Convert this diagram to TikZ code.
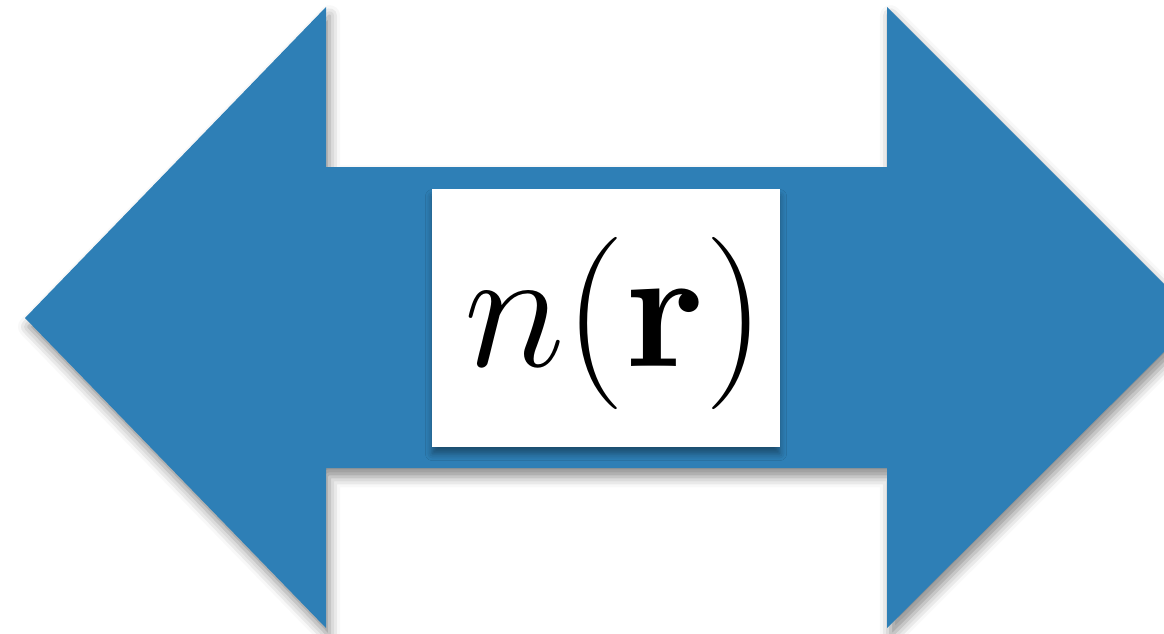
\documentclass[tikz,border=0pt]{standalone}
\usepackage{amsmath}
\usepackage{xcolor}
\usepackage{tikz}
\usetikzlibrary{shadows.blur}
\definecolor{arrowblue}{RGB}{46,127,182}

\begin{document}
\begin{tikzpicture}[x=0.01cm,y=-0.01cm,
    dblarrow/.style={fill=arrowblue,draw=none,
      blur shadow={shadow xshift=1pt,shadow yshift=-2.5pt,shadow blur radius=3pt,shadow opacity=45}},
    denbox/.style={rectangle,fill=white,draw=none,minimum width=3.47cm,minimum height=2.57cm,
      inner sep=0pt,text height=40pt,text depth=12.25pt,font=\Huge,
      blur shadow={shadow xshift=0pt,shadow yshift=-2pt,shadow blur radius=2pt,shadow opacity=40}}]
\useasboundingbox (0,0) rectangle (1164,633);
\begin{scope}
\clip (0,0) rectangle (1164,633);
% double-headed arrow
\path[dblarrow] (25,318) -- (326,7) -- (326,167) -- (887,167) -- (887,7)
  -- (1198,318) -- (887,628) -- (887,468) -- (326,468) -- (326,628) -- cycle;
\end{scope}
% density box
\node[denbox] (dens) at (606,318) {\hspace{0.18cm}\scalebox{1.97}{$n(\mathbf{r})$}};
\end{tikzpicture}
\end{document}
